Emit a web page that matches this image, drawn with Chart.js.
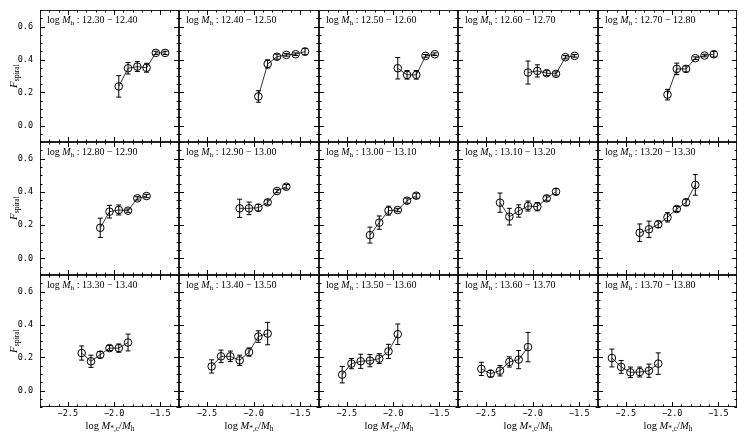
<!DOCTYPE html>
<html>
<head>
<meta charset="utf-8">
<style>
  body { margin: 0; background: #fff; }
  #fig { position: relative; width: 747px; height: 442px; overflow: hidden; }
  .cv { position: absolute; }
  .txt { position: absolute; font-family: "Liberation Serif", serif; color: #000; white-space: nowrap; line-height: 1; }
  .txt sub { font-size: 70%; vertical-align: -0.25em; }
  .ann { font-size: 10px; }
  .ytitle { font-size: 11px; transform: translate(-50%, -50%) rotate(-90deg); }
  .xtitle { font-size: 10.5px; transform: translate(-50%, -50%); }
</style>
</head>
<body>
<div id="fig"></div>

<script src="https://cdn.jsdelivr.net/npm/chart.js"></script>

<script>
    // halo mass bins, one per panel (row by row)
    const haloBins = ['12.30 \u2212 12.40', '12.40 \u2212 12.50', '12.50 \u2212 12.60', '12.60 \u2212 12.70', '12.70 \u2212 12.80',
                      '12.80 \u2212 12.90', '12.90 \u2212 13.00', '13.00 \u2212 13.10', '13.10 \u2212 13.20', '13.20 \u2212 13.30',
                      '13.30 \u2212 13.40', '13.40 \u2212 13.50', '13.50 \u2212 13.60', '13.60 \u2212 13.70', '13.70 \u2212 13.80']

    // log M*,c / Mh (bin centres)
    const ratioX = [
        [-1.95, -1.85, -1.75, -1.65, -1.55, -1.45],
        [-1.95, -1.85, -1.75, -1.65, -1.55, -1.45],
        [-1.95, -1.85, -1.75, -1.65, -1.55],
        [-2.05, -1.95, -1.85, -1.75, -1.65, -1.55],
        [-2.05, -1.95, -1.85, -1.75, -1.65, -1.55],
        [-2.15, -2.05, -1.95, -1.85, -1.75, -1.65],
        [-2.15, -2.05, -1.95, -1.85, -1.75, -1.65],
        [-2.25, -2.15, -2.05, -1.95, -1.85, -1.75],
        [-2.35, -2.25, -2.15, -2.05, -1.95, -1.85, -1.75],
        [-2.35, -2.25, -2.15, -2.05, -1.95, -1.85, -1.75],
        [-2.35, -2.25, -2.15, -2.05, -1.95, -1.85],
        [-2.45, -2.35, -2.25, -2.15, -2.05, -1.95, -1.85],
        [-2.55, -2.45, -2.35, -2.25, -2.15, -2.05, -1.95],
        [-2.55, -2.45, -2.35, -2.25, -2.15, -2.05],
        [-2.65, -2.55, -2.45, -2.35, -2.25, -2.15]
    ]

    // spiral fraction
    const fSpiral = [
        [0.237, 0.347, 0.357, 0.350, 0.440, 0.440],
        [0.176, 0.373, 0.417, 0.428, 0.432, 0.448],
        [0.347, 0.307, 0.307, 0.422, 0.432],
        [0.321, 0.331, 0.317, 0.313, 0.414, 0.422],
        [0.187, 0.343, 0.343, 0.408, 0.424, 0.432],
        [0.184, 0.281, 0.291, 0.287, 0.361, 0.375],
        [0.301, 0.301, 0.305, 0.337, 0.405, 0.431],
        [0.140, 0.215, 0.287, 0.291, 0.347, 0.377],
        [0.335, 0.251, 0.285, 0.315, 0.311, 0.361, 0.401],
        [0.154, 0.175, 0.205, 0.247, 0.297, 0.337, 0.442],
        [0.227, 0.177, 0.217, 0.257, 0.257, 0.291],
        [0.146, 0.207, 0.207, 0.183, 0.233, 0.327, 0.345],
        [0.096, 0.163, 0.177, 0.181, 0.193, 0.237, 0.341],
        [0.131, 0.102, 0.120, 0.173, 0.187, 0.263],
        [0.197, 0.143, 0.110, 0.112, 0.120, 0.163]
    ]

    // 1-sigma errors
    const fErr = [
        [0.065, 0.035, 0.030, 0.027, 0.010, 0.010],
        [0.035, 0.025, 0.015, 0.008, 0.008, 0.020],
        [0.065, 0.026, 0.026, 0.008, 0.008],
        [0.070, 0.037, 0.015, 0.012, 0.010, 0.008],
        [0.032, 0.035, 0.018, 0.008, 0.008, 0.017],
        [0.058, 0.038, 0.030, 0.010, 0.010, 0.010],
        [0.055, 0.038, 0.020, 0.015, 0.010, 0.013],
        [0.048, 0.040, 0.027, 0.010, 0.015, 0.015],
        [0.058, 0.050, 0.037, 0.030, 0.025, 0.015, 0.018],
        [0.053, 0.049, 0.020, 0.028, 0.015, 0.020, 0.062],
        [0.043, 0.037, 0.020, 0.015, 0.025, 0.051],
        [0.040, 0.038, 0.032, 0.031, 0.025, 0.035, 0.068],
        [0.050, 0.031, 0.043, 0.037, 0.030, 0.043, 0.062],
        [0.040, 0.020, 0.032, 0.031, 0.055, 0.089],
        [0.054, 0.039, 0.032, 0.030, 0.040, 0.065]
    ]

    const xTicks = [-2.5, -2.0, -1.5]
    const yTicks = [0.0, 0.2, 0.4, 0.6]

    const fig = document.getElementById('fig')
    const lefts = [40, 179, 319, 458, 598, 737]
    const tops = [10, 142, 275, 407]
    const NCOL = 5

    const fmt = v => (v < 0 ? '\u2212' : '') + Math.abs(v).toFixed(1)

    // error bars, frame and inward ticks on all sides
    const panelDeco = {
        id: 'panelDeco',
        beforeDatasetsDraw(chart) {
            const {ctx, scales: {x, y}} = chart
            const ds = chart.data.datasets[0]
            const errs = chart.options.plugins.panelDeco.errors
            ctx.save()
            ctx.strokeStyle = '#000'
            ctx.lineWidth = 1
            ds.data.forEach((p, i) => {
                const px = x.getPixelForValue(p.x)
                const t = y.getPixelForValue(p.y + errs[i])
                const b = y.getPixelForValue(p.y - errs[i])
                ctx.beginPath()
                ctx.moveTo(px, t); ctx.lineTo(px, b)
                ctx.moveTo(px - 2.5, t); ctx.lineTo(px + 2.5, t)
                ctx.moveTo(px - 2.5, b); ctx.lineTo(px + 2.5, b)
                ctx.stroke()
            })
            ctx.restore()
        },
        afterDraw(chart) {
            const {ctx, chartArea: a, scales: {x, y}} = chart
            ctx.save()
            ctx.strokeStyle = '#222'
            ctx.lineWidth = 1
            ctx.strokeRect(a.left + 0.5, a.top + 0.5, a.right - a.left - 1, a.bottom - a.top - 1)
            ctx.strokeStyle = '#000'
            ctx.beginPath()
            for (let k = -28; k <= -13; k++) {
                const v = k / 10
                const len = xTicks.some(t => Math.abs(t - v) < 1e-6) ? 5 : 2.5
                const px = Math.round(x.getPixelForValue(v)) + 0.5
                ctx.moveTo(px, a.bottom); ctx.lineTo(px, a.bottom - len)
                ctx.moveTo(px, a.top); ctx.lineTo(px, a.top + len)
            }
            for (let k = -2; k <= 14; k++) {
                const v = k / 20
                const len = yTicks.some(t => Math.abs(t - v) < 1e-6) ? 5 : 2.5
                const py = Math.round(y.getPixelForValue(v)) + 0.5
                ctx.moveTo(a.left, py); ctx.lineTo(a.left + len, py)
                ctx.moveTo(a.right, py); ctx.lineTo(a.right - len, py)
            }
            ctx.stroke()
            ctx.restore()
        }
    }

    const tickFont = {family: '"DejaVu Sans Mono", monospace', size: 8.5}

    const noPad = s => { s.paddingTop = 0; s.paddingBottom = 0; s.paddingLeft = 0; s.paddingRight = 0 }

    haloBins.forEach((bin, n) => {
        const r = Math.floor(n / NCOL), c = n % NCOL
        const left = c === 0 ? 0 : lefts[c]
        const w = lefts[c + 1] - left
        const h = (r === 2 ? 442 : tops[r + 1]) - tops[r]

        const wrap = document.createElement('div')
        wrap.className = 'cv'
        wrap.style.left = left + 'px'
        wrap.style.top = tops[r] + 'px'
        wrap.style.width = w + 'px'
        wrap.style.height = h + 'px'
        const canvas = document.createElement('canvas')
        wrap.append(canvas)
        fig.append(wrap)

        new Chart(canvas, {
            type: 'scatter',
            data: {
                datasets: [{
                    data: ratioX[n].map((v, i) => ({x: v, y: fSpiral[n][i]})),
                    showLine: true,
                    borderColor: '#000',
                    borderWidth: 0.8,
                    pointRadius: 3.8,
                    pointBorderWidth: 1,
                    pointBorderColor: '#000',
                    pointBackgroundColor: 'rgba(0,0,0,0)'
                }]
            },
            options: {
                responsive: true,
                maintainAspectRatio: false,
                animation: false,
                layout: {padding: 0, autoPadding: false},
                plugins: {legend: {display: false}, tooltip: {enabled: false}, panelDeco: {errors: fErr[n]}},
                scales: {
                    x: {
                        type: 'linear', min: -2.8, max: -1.3,
                        display: r === 2,
                        grid: {display: false, drawTicks: false},
                        border: {display: false},
                        afterBuildTicks: s => { s.ticks = xTicks.map(v => ({value: v})) },
                        afterFit: s => { s.height = r === 2 ? 35 : 0; noPad(s) },
                        ticks: {color: '#000', font: tickFont, padding: 2, maxRotation: 0, callback: fmt}
                    },
                    y: {
                        type: 'linear', min: -0.1, max: 0.7,
                        display: c === 0,
                        grid: {display: false, drawTicks: false},
                        border: {display: false},
                        afterBuildTicks: s => { s.ticks = yTicks.map(v => ({value: v})) },
                        afterFit: s => { s.width = c === 0 ? 40 : 0; noPad(s) },
                        ticks: {color: '#000', font: tickFont, padding: 7, callback: fmt}
                    }
                }
            },
            plugins: [panelDeco]
        })

        const ann = document.createElement('div')
        ann.className = 'txt ann'
        ann.style.left = (lefts[c] + 7) + 'px'
        ann.style.top = (tops[r] + 5) + 'px'
        ann.innerHTML = 'log <i>M</i><sub>h</sub> : ' + bin
        fig.append(ann)

        if (r === 2) {
            const xt = document.createElement('div')
            xt.className = 'txt xtitle'
            xt.style.left = (lefts[c] + 70) + 'px'
            xt.style.top = '427px'
            xt.innerHTML = 'log <i>M</i><sub>*,c</sub>/<i>M</i><sub>h</sub>'
            fig.append(xt)
        }
        if (c === 0) {
            const yt = document.createElement('div')
            yt.className = 'txt ytitle'
            yt.style.left = '14px'
            yt.style.top = (tops[r] + 66) + 'px'
            yt.innerHTML = '<i>F</i><sub>spiral</sub>'
            fig.append(yt)
        }
    })
</script>
</body>
</html>
